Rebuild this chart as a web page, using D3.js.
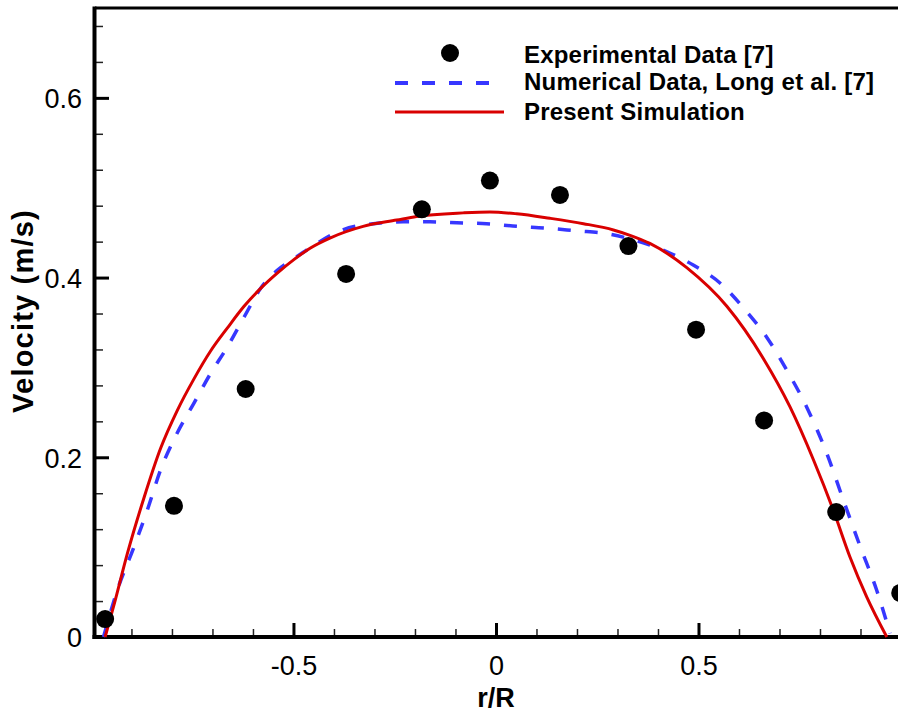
<!DOCTYPE html>
<html lang="en">
<head>
  <meta charset="utf-8">
  <title>Velocity profile</title>
  <script src="https://d3js.org/d3.v7.min.js"></script>
  <style>
    body { margin: 0; background: #fff; }
    svg { display: block; font-family: "Liberation Sans", Arial, sans-serif; }
    .tick text { font-size: 27px; fill: #000; }
    .domain { display: none; }
  </style>
</head>
<body>
<svg width="898" height="713"></svg>
<script>
// experimental points
var expR   = [-0.965, -0.795, -0.618, -0.370, -0.183, -0.015, 0.158, 0.327, 0.494, 0.662, 0.840, 0.998];
var expVel = [0.020, 0.146, 0.276, 0.404, 0.476, 0.508, 0.492, 0.435, 0.342, 0.241, 0.139, 0.049];

// numerical data, Long et al.
var longR   = [-0.969, -0.935, -0.894, -0.861, -0.828, -0.787, -0.746, -0.705, -0.663, -0.622, -0.581, -0.540, -0.499, -0.449, -0.385, -0.303, -0.229, -0.163, -0.097, -0.023, 0.051, 0.125, 0.199, 0.273, 0.339, 0.421, 0.487, 0.553, 0.619, 0.668, 0.718, 0.767, 0.817, 0.858, 0.899, 0.940, 0.973];
var longVel = [0.000, 0.052, 0.100, 0.141, 0.186, 0.227, 0.260, 0.293, 0.323, 0.356, 0.388, 0.408, 0.421, 0.436, 0.452, 0.460, 0.462, 0.462, 0.461, 0.460, 0.457, 0.455, 0.452, 0.449, 0.442, 0.429, 0.414, 0.394, 0.362, 0.334, 0.297, 0.256, 0.204, 0.152, 0.101, 0.052, 0.004];

// present simulation
var simR   = [-0.965, -0.943, -0.910, -0.869, -0.828, -0.787, -0.746, -0.705, -0.663, -0.622, -0.581, -0.540, -0.499, -0.458, -0.410, -0.328, -0.245, -0.196, -0.081, -0.015, 0.051, 0.133, 0.216, 0.290, 0.331, 0.380, 0.471, 0.570, 0.660, 0.726, 0.784, 0.833, 0.874, 0.915, 0.965];
var simVel = [0.000, 0.036, 0.093, 0.155, 0.210, 0.252, 0.287, 0.318, 0.344, 0.368, 0.388, 0.405, 0.420, 0.433, 0.444, 0.457, 0.464, 0.468, 0.472, 0.473, 0.471, 0.466, 0.460, 0.453, 0.447, 0.438, 0.411, 0.368, 0.310, 0.256, 0.197, 0.141, 0.089, 0.045, 0.000];

var xMajor = [-0.5, 0, 0.5];
var xMinor = [-0.9, -0.8, -0.7, -0.6, -0.4, -0.3, -0.2, -0.1, 0.1, 0.2, 0.3, 0.4, 0.6, 0.7, 0.8, 0.9];
var yMajor = [0, 0.2, 0.4, 0.6];
var yMinor = [0.04, 0.08, 0.12, 0.16, 0.24, 0.28, 0.32, 0.36, 0.44, 0.48, 0.52, 0.56, 0.64, 0.68];

var legendNames = ["Experimental Data [7]", "Numerical Data, Long et al. [7]", "Present Simulation"];

(function() {
var svg = d3.select("svg");
var mLeft = 95, mRight = 901, mTop = 8, mBottom = 637;

var x = d3.scaleLinear().domain([-0.99, 1.0]).range([mLeft, mRight]);
var y = d3.scaleLinear().domain([0, 0.7]).range([mBottom, mTop]);

svg.append("clipPath").attr("id", "clip")
  .append("rect").attr("x", mLeft).attr("y", mTop).attr("width", mRight - mLeft).attr("height", mBottom - mTop + 2);

// plain hyphen for negatives, "0" without decimals
var fmt = function(d) { return d === 0 ? "0" : (d < 0 ? "-" : "") + Math.abs(d).toFixed(1); };

var gx = svg.append("g").attr("transform", "translate(0," + mBottom + ")")
  .call(d3.axisBottom(x).tickValues(xMajor).tickSizeInner(-14).tickSizeOuter(0).tickPadding(0).tickFormat(fmt));
gx.selectAll(".tick line").attr("stroke", "#000").attr("stroke-width", 3);
gx.selectAll(".tick text").attr("y", 38).attr("dy", null);

var gxm = svg.append("g").attr("transform", "translate(0," + mBottom + ")")
  .call(d3.axisBottom(x).tickValues(xMinor).tickSizeInner(-8).tickSizeOuter(0).tickFormat(""));
gxm.selectAll(".tick line").attr("stroke", "#222").attr("stroke-width", 1.5);

var gy = svg.append("g").attr("transform", "translate(" + mLeft + ",0)")
  .call(d3.axisLeft(y).tickValues(yMajor).tickSizeInner(-14).tickSizeOuter(0).tickPadding(13).tickFormat(fmt));
gy.selectAll(".tick line").attr("stroke", "#000").attr("stroke-width", 3);
gy.selectAll(".tick text").attr("dy", "0.36em");

var gym = svg.append("g").attr("transform", "translate(" + mLeft + ",0)")
  .call(d3.axisLeft(y).tickValues(yMinor).tickSizeInner(-8).tickSizeOuter(0).tickFormat(""));
gym.selectAll(".tick line").attr("stroke", "#222").attr("stroke-width", 1.5);

// frame
svg.append("line").attr("x1", mLeft).attr("x2", mRight + 5).attr("y1", mTop).attr("y2", mTop)
  .attr("stroke", "#000").attr("stroke-width", 3);
svg.append("line").attr("x1", mLeft - 0.5).attr("x2", mLeft - 0.5).attr("y1", mTop - 1.5).attr("y2", mBottom + 2)
  .attr("stroke", "#000").attr("stroke-width", 4);
svg.append("line").attr("x1", mLeft - 2.5).attr("x2", mRight + 5).attr("y1", mBottom).attr("y2", mBottom)
  .attr("stroke", "#000").attr("stroke-width", 4);

var plot = svg.append("g").attr("clip-path", "url(#clip)");

var line = d3.line()
  .curve(d3.curveMonotoneX)
  .x(function(d) { return x(d[0]); })
  .y(function(d) { return y(d[1]); });

plot.append("path")
  .datum(d3.zip(longR, longVel))
  .attr("d", line)
  .attr("fill", "none")
  .attr("stroke", "#3737ff")
  .attr("stroke-width", 3.5)
  .attr("stroke-dasharray", "13,14");

plot.append("path")
  .datum(d3.zip(simR, simVel))
  .attr("d", line)
  .attr("fill", "none")
  .attr("stroke", "#d90000")
  .attr("stroke-width", 3);

svg.append("g")
  .selectAll("circle")
  .data(d3.zip(expR, expVel))
  .enter().append("circle")
  .attr("cx", function(d) { return x(d[0]); })
  .attr("cy", function(d) { return y(d[1]); })
  .attr("r", 9)
  .attr("fill", "#000");

// legend
var lg = svg.append("g");
lg.append("circle").attr("cx", 450).attr("cy", 53).attr("r", 9).attr("fill", "#000");
lg.append("line").attr("x1", 395).attr("x2", 498).attr("y1", 83).attr("y2", 83)
  .attr("stroke", "#3737ff").attr("stroke-width", 4).attr("stroke-dasharray", "13,14");
lg.append("line").attr("x1", 395).attr("x2", 504).attr("y1", 112).attr("y2", 112)
  .attr("stroke", "#d90000").attr("stroke-width", 3);
lg.selectAll("text")
  .data(legendNames)
  .enter().append("text")
  .attr("x", 524)
  .attr("y", function(d, i) { return [63, 90, 120][i]; })
  .attr("font-size", 24)
  .attr("letter-spacing", 0.2)
  .attr("font-weight", "bold")
  .text(function(d) { return d; });

// axis titles
svg.append("text")
  .attr("x", 496).attr("y", 707)
  .attr("text-anchor", "middle")
  .attr("font-size", 27).attr("font-weight", "bold")
  .text("r/R");

svg.append("text")
  .attr("transform", "translate(33,311) rotate(-90)")
  .attr("text-anchor", "middle")
  .attr("font-size", 29).attr("font-weight", "bold")
  .attr("letter-spacing", 1.2)
  .text("Velocity (m/s)");
})();
</script>
</body>
</html>
